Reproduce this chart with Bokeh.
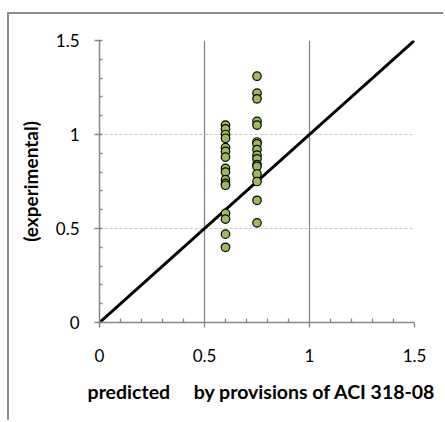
from bokeh.plotting import figure
from bokeh.models import Range1d, FixedTicker, ColumnDataSource
from bokeh.embed import file_html
from bokeh.resources import INLINE

# ---- data ----
pred_a = 0.6
exp_a = [1.05, 1.03, 1.00, 0.98, 0.93, 0.91, 0.88, 0.82, 0.80, 0.76, 0.74, 0.73, 0.58, 0.55, 0.47, 0.40]
pred_b = 0.75
exp_b = [1.31, 1.22, 1.19, 1.07, 1.05, 0.96, 0.95, 0.92, 0.89, 0.87, 0.84, 0.83, 0.79, 0.75, 0.65, 0.53]
line_x = [0, 1.5]
line_y = [0, 1.5]
major_ticks = [0, 0.5, 1, 1.5]
tick_labels = ["0", "0.5", "1", "1.5"]
minor_ticks = [0.1, 0.2, 0.3, 0.4, 0.6, 0.7, 0.8, 0.9, 1.1, 1.2, 1.3, 1.4]
x_title = "\u00a0\u00a0predicted\u00a0\u00a0\u00a0\u00a0 by provisions of ACI 318-08"
y_title = "(experimental)"

xs = [pred_a] * len(exp_a) + [pred_b] * len(exp_b)
ys = exp_a + exp_b
src = ColumnDataSource(dict(x=xs, y=ys))

FONT = "Lato"
AX = "#868686"

p = figure(width=436, height=408, output_backend="svg", toolbar_location=None,
           x_range=Range1d(0, 1.5), y_range=Range1d(0, 1.5),
           min_border_left=90, min_border_top=26, min_border_right=31, min_border_bottom=100)
p.styles = {"margin-left": "7px", "margin-top": "12px",
            "border-left": "2px solid #8c8c8c", "border-top": "2px solid #8c8c8c"}
p.outline_line_color = None
p.background_fill_color = "white"
p.border_fill_color = "white"

for ax in (p.xaxis[0], p.yaxis[0]):
    ax.ticker = FixedTicker(ticks=major_ticks, minor_ticks=minor_ticks)
    ax.major_label_overrides = {t: l for t, l in zip(major_ticks, tick_labels)}
    ax.axis_line_color = AX
    ax.axis_line_width = 1.5
    ax.major_tick_line_color = AX
    ax.minor_tick_line_color = AX
    ax.major_tick_line_width = 1.3
    ax.minor_tick_line_width = 1.3
    ax.major_label_text_font = FONT
    ax.major_label_text_font_size = "17px"
    ax.major_label_text_color = "#000000"
    ax.axis_label_text_font = FONT
    ax.axis_label_text_font_style = "bold"
    ax.axis_label_text_color = "#000000"

p.xaxis.major_tick_out = 5
p.xaxis.major_tick_in = 0
p.xaxis.minor_tick_in = 4
p.xaxis.minor_tick_out = 0
p.xaxis.major_label_standoff = 21
p.xaxis.axis_label = x_title
p.xaxis.axis_label_standoff = 15
p.xaxis.axis_label_text_font_size = "19.5px"

p.yaxis.major_tick_out = 5
p.yaxis.major_tick_in = 3
p.yaxis.minor_tick_in = 3
p.yaxis.minor_tick_out = 0
p.yaxis.major_label_standoff = 15
p.yaxis.axis_label = y_title
p.yaxis.axis_label_standoff = 11
p.yaxis.axis_label_text_font_size = "19px"

p.xgrid.ticker = FixedTicker(ticks=[0.5, 1, 1.5])
p.ygrid.ticker = FixedTicker(ticks=[0.5, 1, 1.5])
p.xgrid.grid_line_color = AX
p.xgrid.grid_line_width = 1.3
p.ygrid.grid_line_color = "#c8c8c8"
p.ygrid.grid_line_width = 1
p.ygrid.grid_line_dash = "3 2"

p.line(line_x, line_y, line_color="black", line_width=3)
p.scatter("x", "y", source=src, size=8.5, fill_color="#9bbb59", line_color="black", line_width=1.2)

open("out.html", "w").write(file_html(p, INLINE))
